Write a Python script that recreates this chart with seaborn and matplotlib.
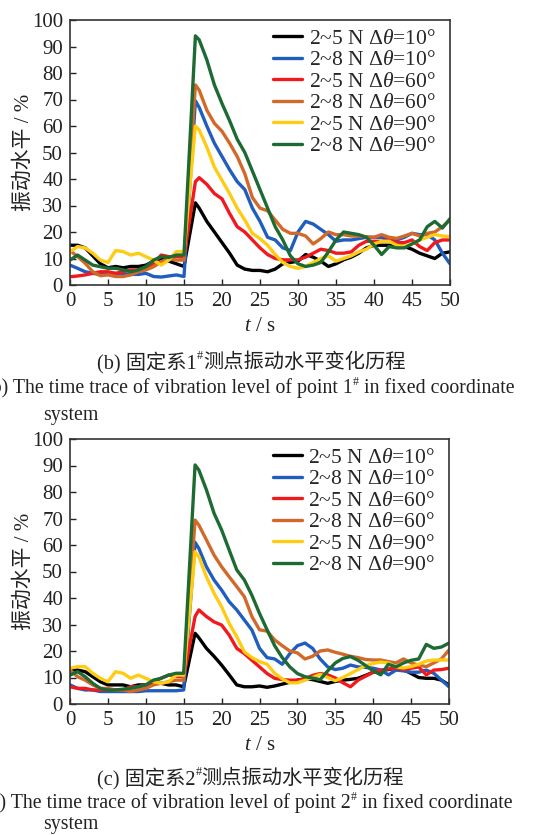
import matplotlib
matplotlib.use("Agg")
import matplotlib.pyplot as plt
import pandas as pd
import seaborn as sns

# ---------------------------------------------------------------- data
# time axis (s): 1 s steps, plus the peak sample at 16.5 s
t = list(range(16)) + [16.5] + list(range(17, 51))

labels = [
    r"2~5 N $\Delta\theta$=10°",
    r"2~8 N $\Delta\theta$=10°",
    r"2~5 N $\Delta\theta$=60°",
    r"2~8 N $\Delta\theta$=60°",
    r"2~5 N $\Delta\theta$=90°",
    r"2~8 N $\Delta\theta$=90°",
]
colors = ["#000000", "#1f5dbf", "#f2191e", "#d2692a", "#ffcc14", "#1d6a33"]

# point 1# (vibration level, %)
p1_n5_d10 = [15, 15, 14, 11, 8, 6.5, 7, 6.5, 7, 7, 7.5, 9, 10, 9, 8, 7,
             31,
             29, 24, 20, 16, 12, 7.5, 6, 5.5, 5.5, 5, 6, 8, 8.5, 9, 11.5, 10.5, 9,
             7, 8, 9.5, 10.5, 12, 14, 15, 15, 15, 15, 14.5, 13.5, 12, 11, 10, 12, 12.5]
p1_n8_d10 = [7.5, 6.3, 5, 4.4, 4, 4, 4.4, 4, 4, 4, 4.4, 3.2, 3, 3.4, 3.8, 3.2,
             69.5,
             67, 60, 53.5, 48.5, 43.5, 39, 36, 29, 24, 18, 17, 14, 13, 20, 24, 23, 21,
             19, 16.5, 17, 17, 17.5, 18, 18, 18, 17, 17, 18, 19.5, 19, 19, 17, 12, 8]
p1_n5_d60 = [3.1, 3.4, 3.8, 4.4, 5, 5, 4.4, 5, 5.7, 5.7, 6.3, 8.2, 11.3, 10.7, 10.7, 10.5,
             39,
             40.5, 38, 34.5, 32.5, 27, 22, 20, 17, 14, 11.5, 10, 9.5, 9.5, 9.5, 10.5, 12, 13.5,
             13, 12, 12, 12.5, 15, 16.5, 16.5, 16.5, 17, 16, 16, 17, 14.5, 13, 16, 17, 17]
p1_n8_d60 = [13, 10.7, 8.2, 5, 3.5, 3.8, 3.2, 3.2, 3.8, 5, 5.7, 6.9, 8.8, 10, 9.4, 9.4,
             75.5,
             73.5, 66, 61, 58, 53.5, 48.5, 42, 33, 29, 28, 24.5, 21, 19.5, 19.5, 18.5, 15.5, 17.5,
             20, 19, 19, 18.5, 18.5, 18.2, 18, 19, 18, 17.6, 18.5, 19.5, 18.5, 19.5, 20, 22, 24.5]
p1_n5_d90 = [12.6, 14.5, 14, 12, 9.4, 8.5, 13, 12.6, 11.3, 12, 10.7, 9.4, 7.5, 9.4, 12.6, 12.6,
             60,
             58.5, 52, 44.5, 39.5, 34.5, 29, 24.5, 19.5, 17.5, 15, 11.5, 8.5, 7, 6.3, 7, 8.5, 10,
             11, 9, 10, 11, 12.5, 13.5, 15.5, 16.5, 16.5, 15, 14.5, 15.5, 17, 18, 19, 18.5, 18.2]
p1_n8_d90 = [9.4, 11.3, 9.4, 7.5, 6.9, 6.3, 6.3, 5.7, 5, 5.7, 6.9, 9.4, 10.7, 10.4, 11.3, 11.3,
             94,
             92.5, 85, 75.5, 68.5, 62, 55, 50, 43, 36, 29, 22, 17, 11, 8, 7, 7.5, 8.5,
             12.5, 17, 20, 19.5, 19, 18, 15, 11.5, 14.5, 14, 14, 15.5, 17, 22, 24, 21.5, 25]

# point 2# (vibration level, %)
p2_n5_d10 = [12.8, 12.8, 12.2, 10.3, 8.4, 7.2, 7.2, 7.2, 6.5, 7.2, 7.2, 7.8, 7.8, 7.2, 7.2, 6.5,
             26.7,
             25, 21, 18, 14.7, 11, 7.2, 6.5, 6.5, 6.8, 6.3, 6.8, 7.5, 8.2, 9, 9.5, 9.2, 8.5,
             7.8, 8.5, 9, 9.3, 9.7, 10.8, 12, 12.5, 13, 13.5, 13, 11.5, 10, 9.7, 9.7, 9, 7.2]
p2_n8_d10 = [7.2, 5.9, 5.3, 5.3, 4.7, 4.7, 4.7, 4.7, 4.7, 4.7, 5, 5, 5, 5, 5, 5.3,
             61,
             58.7, 51.8, 46.8, 43, 38.6, 35.5, 31.7, 27.9, 21, 17.5, 17, 15, 19, 22, 23, 21, 17,
             14, 13, 13.5, 14.7, 14, 13.8, 13.5, 12.8, 11, 12.8, 12.5, 12, 12, 12.8, 11.6, 9, 6.5]
p2_n5_d60 = [6.5, 5.9, 5.9, 5.3, 5.3, 5.3, 5.3, 5.3, 6.5, 6.5, 7.2, 8.4, 9.7, 10.9, 10.5, 10.3,
             33,
             35.5, 33, 31, 29.8, 26, 21, 19, 16.5, 14, 11.5, 9.7, 9.2, 9, 9, 9.5, 10.8, 11.5,
             11, 9.8, 8, 6.5, 9, 10.5, 12, 12.8, 13.2, 13.5, 13, 13.5, 14, 11, 12.8, 13, 13.5]
p2_n8_d60 = [12.8, 10.3, 9, 7.2, 5.9, 5.9, 5.3, 5.3, 4.7, 5.3, 5.9, 7.2, 7.8, 8.4, 9, 9,
             69.4,
             67.5, 61.9, 56.2, 51.8, 48, 44.3, 40.5, 33, 28, 27.5, 24.2, 22, 20, 19.3, 17, 18, 20,
             20.4, 19.5, 18.8, 18, 17.5, 16.8, 16.6, 16.6, 16, 15.5, 17, 15.5, 14.7, 14.1, 15.5, 17, 20.4]
p2_n5_d90 = [13.5, 14.1, 14.1, 11.6, 9.7, 8.4, 12.2, 11.6, 9.7, 10.9, 9.7, 8.4, 7.8, 8.4, 10.9, 10.9,
             57.5,
             55.6, 48, 41.8, 36.7, 30.4, 25.4, 19.7, 17.5, 16, 15, 11.6, 9.5, 8, 8, 9, 10, 11.2,
             10, 8.8, 10, 11.5, 13, 14.5, 15.3, 15.8, 15.5, 14, 13.6, 14.1, 15, 16.2, 16.6, 16.6, 16.6]
p2_n8_d90 = [10.9, 12.2, 10.3, 7.8, 5.9, 5.3, 5.3, 5.6, 5.9, 6.5, 7.2, 9, 9.7, 10.9, 11.6, 11.6,
             90.2,
             88.3, 80.8, 72, 65.7, 58.1, 50.6, 46.8, 41, 34.2, 28, 22, 17.5, 14, 11.5, 10.3, 9.8, 9.2,
             12.5, 15.5, 17.2, 17.9, 16.5, 14.5, 12.5, 11, 15, 14, 15.5, 16.5, 17, 22.5, 21, 21.5, 23]

point1 = [p1_n5_d10, p1_n8_d10, p1_n5_d60, p1_n8_d60, p1_n5_d90, p1_n8_d90]
point2 = [p2_n5_d10, p2_n8_d10, p2_n5_d60, p2_n8_d60, p2_n5_d90, p2_n8_d90]

x_ticks = list(range(0, 51, 5))
y_ticks = list(range(0, 101, 10))
x_label = r"$t$ / s"
y_label = "振动水平 / %"

# ---------------------------------------------------------------- style
sns.set_theme(style="white")
plt.rcParams["font.family"] = ["Liberation Serif", "Noto Sans CJK SC"]
plt.rcParams["mathtext.fontset"] = "custom"
plt.rcParams["mathtext.rm"] = "Liberation Serif"
plt.rcParams["mathtext.it"] = "Liberation Serif:italic"
plt.rcParams["axes.unicode_minus"] = False

W, H = 543, 835
fig = plt.figure(figsize=(W / 100, H / 100), dpi=100)
FS = 15
LEG_FS = 15.5
INK = "#222222"


def long_frame(series):
    rows = []
    for name, vals in zip(labels, series):
        for ti, v in zip(t, vals):
            rows.append((ti, v, name))
    return pd.DataFrame(rows, columns=["t", "level", "case"])


def draw_panel(ax, series):
    df = long_frame(series)
    sns.lineplot(data=df, x="t", y="level", hue="case", hue_order=labels,
                 palette=dict(zip(labels, colors)), linewidth=2.4,
                 estimator=None, sort=False, legend=False, ax=ax)
    ax.set_xlim(0, 50)
    ax.set_ylim(0, 100)
    ax.set_xticks(x_ticks)
    ax.set_yticks(y_ticks)
    ax.tick_params(direction="in", length=4, width=1, labelsize=FS,
                   colors=INK, pad=5, bottom=True, left=True)
    for sp in ax.spines.values():
        sp.set_color("#333333")
        sp.set_linewidth(1.2)
    ax.set_xlabel(x_label, fontsize=FS, color=INK)
    ax.xaxis.set_label_coords(0.5, -0.155)
    ax.xaxis.label.set_va("center")
    ax.set_ylabel(y_label, fontsize=FS, color=INK)
    ax.yaxis.set_label_coords(-0.12, 0.5)
    ax.yaxis.label.set_va("center")
    ax.legend(ax.lines, labels, loc="upper left", bbox_to_anchor=(0.535, 0.968),
              frameon=False, fontsize=LEG_FS, handlelength=1.35, handletextpad=0.3,
              labelspacing=0.07, borderpad=0, borderaxespad=0)


def text_runs(ax, x_px, y_px, runs, size):
    """Write a line of text runs; runs flagged True are raised superscripts."""
    prev = fig.text(x_px / W, 1 - y_px / H, runs[0][0], ha="left", va="baseline",
                    fontsize=size, color=INK)
    for txt, sup in runs[1:]:
        if sup:
            prev = ax.annotate(txt, xy=(1, H - y_px + 0.42 * size * 1.389),
                               xycoords=(prev, "figure pixels"), ha="left", va="baseline",
                               fontsize=size * 0.6, color=INK, annotation_clip=False)
        else:
            prev = ax.annotate(txt, xy=(1, H - y_px), xycoords=(prev, "figure pixels"),
                               ha="left", va="baseline", fontsize=size, color=INK,
                               annotation_clip=False)


ax1 = fig.add_axes([70 / W, 1 - 285 / H, 380 / W, 265 / H])
draw_panel(ax1, point1)
text_runs(ax1, 97, 368, [("(b) 固定系1", False), ("#", True), ("测点振动水平变化历程", False)], 14.6)
text_runs(ax1, -15, 393, [("(b) The time trace of vibration level of point 1", False), ("#", True),
                         (" in fixed coordinate", False)], 14.3)
text_runs(ax1, 43, 420, [("system", False)], 14.3)

ax2 = fig.add_axes([70 / W, 1 - 704 / H, 379 / W, 265 / H])
draw_panel(ax2, point2)
text_runs(ax2, 97, 784, [("(c) 固定系2", False), ("#", True), ("测点振动水平变化历程", False)], 14.6)
text_runs(ax2, -16, 808, [("(c) The time trace of vibration level of point 2", False), ("#", True),
                         (" in fixed coordinate", False)], 14.3)
text_runs(ax2, 43, 829, [("system", False)], 14.3)

fig.savefig("out.png", dpi=100)
